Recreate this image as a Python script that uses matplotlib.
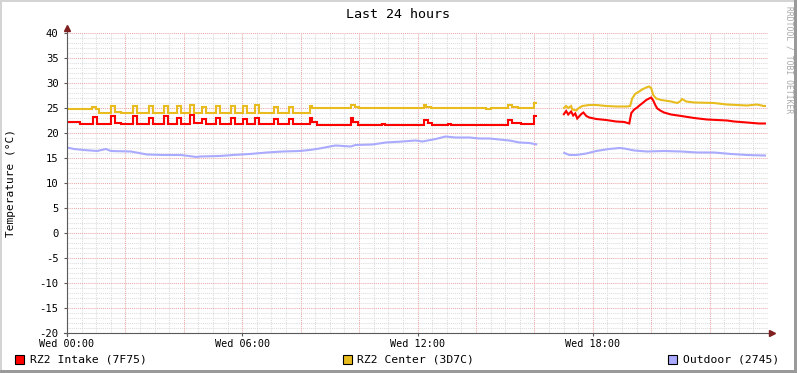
import numpy as np
import matplotlib
matplotlib.use("Agg")
import matplotlib.pyplot as plt
from matplotlib.patches import Rectangle

nan = np.nan

# ---------------- data (hours since Wed 00:00, degrees C) ----------------
intake_t = [0.00, 0.45, 0.89, 1.02, 1.50, 1.64, 1.85, 2.26, 2.40, 2.80, 2.94, 3.32, 3.46,
            3.76, 3.90, 4.21, 4.35, 4.62, 4.76, 5.09, 5.23, 5.61, 5.75, 6.02, 6.16, 6.43,
            6.57, 7.08, 7.22, 7.59, 7.73, 8.31, 8.40, 8.55, 9.71, 9.80, 9.95, 10.80, 10.90,
            12.21, 12.35, 12.50, 13.03, 13.15, 15.11, 15.22, 15.55, 16.00, 16.10, 16.10,
            16.99, 17.09, 17.16, 17.26, 17.33, 17.40, 17.47, 17.61, 17.68, 17.78, 17.88,
            18.12, 18.46, 18.80, 19.08, 19.25, 19.32, 19.42, 19.52, 19.62, 19.73, 19.83,
            19.93, 20.00, 20.07, 20.14, 20.21, 20.31, 20.44, 20.68, 21.03, 21.47, 21.91,
            22.60, 22.84, 23.28, 23.69, 23.93]
intake_v = [22.2, 21.9, 23.2, 21.9, 23.5, 22.0, 21.8, 23.4, 21.9, 23.1, 21.8, 23.4, 21.8,
            23.1, 21.8, 23.6, 22.0, 22.8, 21.8, 23.0, 21.9, 23.0, 21.8, 22.9, 21.8, 23.0,
            21.8, 22.9, 21.8, 22.9, 21.8, 23.1, 22.2, 21.7, 23.0, 22.3, 21.7, 21.9, 21.7,
            22.7, 22.1, 21.7, 21.9, 21.7, 22.7, 22.1, 21.8, 23.4, 23.4, nan,
            23.6, 24.4, 23.7, 24.3, 23.5, 23.9, 22.9, 23.8, 24.1, 23.4, 23.1,
            22.8, 22.6, 22.3, 22.2, 21.9, 24.0, 24.7, 25.1, 25.6, 26.1, 26.6,
            26.9, 27.1, 26.5, 25.6, 24.9, 24.5, 24.1, 23.7, 23.4, 23.0, 22.7,
            22.5, 22.3, 22.1, 21.9, 21.9]

center_t = [0.00, 0.75, 0.85, 1.00, 1.10, 1.50, 1.64, 1.85, 2.26, 2.40, 2.80, 2.94, 3.32,
            3.46, 3.76, 3.90, 4.21, 4.35, 4.62, 4.76, 5.09, 5.23, 5.61, 5.75, 6.02, 6.16,
            6.43, 6.57, 7.08, 7.22, 7.59, 7.73, 8.31, 8.40, 9.71, 9.85, 10.00, 10.50,
            12.21, 12.30, 12.45, 14.35, 14.50, 15.11, 15.22, 15.45, 16.00, 16.10, 16.10,
            16.99, 17.09, 17.16, 17.26, 17.30, 17.44, 17.50, 17.64, 17.88, 18.12, 18.46,
            18.80, 19.18, 19.28, 19.35, 19.45, 19.59, 19.69, 19.83, 19.93, 20.00, 20.07,
            20.17, 20.34, 20.68, 20.89, 20.99, 21.06, 21.20, 21.47, 22.15, 22.60, 23.28,
            23.62, 23.86, 23.93]
center_v = [24.8, 24.9, 25.2, 24.8, 24.0, 25.5, 24.2, 24.0, 25.4, 24.0, 25.5, 24.0, 25.5,
            24.0, 25.4, 24.0, 25.6, 24.0, 25.3, 24.0, 25.4, 24.0, 25.5, 24.0, 25.4, 24.0,
            25.6, 24.0, 25.3, 24.0, 25.3, 24.0, 25.5, 25.1, 25.6, 25.2, 25.0, 25.1,
            25.7, 25.3, 25.1, 24.9, 25.1, 25.7, 25.3, 25.1, 26.1, 26.1, nan,
            24.9, 25.4, 25.0, 25.4, 24.7, 24.5, 24.9, 25.4, 25.6, 25.6, 25.4,
            25.3, 25.3, 25.4, 26.9, 27.8, 28.3, 28.7, 29.1, 29.3, 29.0, 27.6,
            26.9, 26.6, 26.3, 26.0, 26.3, 26.8, 26.3, 26.1, 26.0, 25.7, 25.5,
            25.7, 25.4, 25.4]

outdoor_t = [0.00, 0.24, 0.58, 1.03, 1.33, 1.50, 2.19, 2.74, 3.32, 3.90, 4.44, 4.55, 5.23,
             5.68, 6.26, 6.84, 7.38, 7.97, 8.31, 8.65, 9.09, 9.20, 9.71, 9.88, 10.46, 10.91,
             11.49, 11.93, 12.17, 12.62, 12.96, 13.30, 13.78, 14.12, 14.46, 14.80, 15.15,
             15.49, 15.83, 16.10, 16.10,
             16.99, 17.20, 17.44, 17.78, 18.12, 18.56, 18.91, 19.08, 19.42, 19.86, 20.44,
             21.03, 21.57, 22.15, 22.74, 23.28, 23.86, 23.93]
outdoor_v = [17.1, 16.8, 16.6, 16.4, 16.8, 16.4, 16.3, 15.7, 15.6, 15.6, 15.2, 15.3, 15.4,
             15.6, 15.8, 16.1, 16.3, 16.4, 16.6, 16.9, 17.4, 17.5, 17.3, 17.6, 17.7, 18.1,
             18.3, 18.5, 18.3, 18.8, 19.3, 19.1, 19.1, 18.9, 18.9, 18.7, 18.5,
             18.1, 18.0, 17.7, nan,
             16.1, 15.6, 15.6, 15.9, 16.4, 16.8, 17.0, 16.9, 16.5, 16.3, 16.4,
             16.3, 16.1, 16.1, 15.8, 15.6, 15.5, 15.5]

series_names = ["RZ2 Intake (7F75)", "RZ2 Center (3D7C)", "Outdoor (2745)"]
series_colors = ["#FF0000", "#E8BC1E", "#AAAAFF"]

x_tick_pos = [0, 6, 12, 18]
x_tick_labels = ["Wed 00:00", "Wed 06:00", "Wed 12:00", "Wed 18:00"]
y_tick_pos = list(range(-20, 41, 5))

title = "Last 24 hours"
y_label = "Temperature (°C)"
watermark = "RRDTOOL / TOBI OETIKER"

# ---------------- figure ----------------
W, H = 797, 373
fig = plt.figure(figsize=(W / 100, H / 100), dpi=100)
fig.patch.set_facecolor("white")
mono = "DejaVu Sans Mono"

def fx(px):
    return px / W

def fy(py):
    return 1 - py / H

# 3D-ish border
fig.add_artist(Rectangle((0, fy(2)), 1, 2 / H, transform=fig.transFigure, color="#D4D4D4", lw=0))
fig.add_artist(Rectangle((0, 0), 2 / W, 1, transform=fig.transFigure, color="#D4D4D4", lw=0))
fig.add_artist(Rectangle((0, 0), 1, 3 / H, transform=fig.transFigure, color="#9A9A9A", lw=0))
fig.add_artist(Rectangle((1 - 3 / W, 0), 3 / W, 1, transform=fig.transFigure, color="#9A9A9A", lw=0))

L, R, T, B = 67, 768, 33, 333
ax = fig.add_axes([fx(L), fy(B), fx(R - L), (B - T) / H])
ax.set_xlim(0, 24)
ax.set_ylim(-20, 40)
ax.set_facecolor("white")
for s in ax.spines.values():
    s.set_visible(False)

# grid
minor_c = "#DCDCDC"
major_c = "#EAA8A8"
for yv in np.arange(-20, 40.01, 1):
    if abs(yv - round(yv / 5) * 5) < 1e-6:
        ax.axhline(yv, color=major_c, lw=0.75, ls=(0, (1, 1)), zorder=1)
    else:
        ax.axhline(yv, color=minor_c, lw=0.75, ls=(0, (1, 1)), zorder=0.5)
for xv in np.arange(0, 24.01, 0.5):
    if abs(xv - round(xv / 2) * 2) < 1e-6:
        ax.axvline(xv, color=major_c, lw=0.75, ls=(0, (1, 1)), zorder=1)
    else:
        ax.axvline(xv, color=minor_c, lw=0.75, ls=(0, (1, 1)), zorder=0.5)

# data lines: split each series at its data gap (NaN)
def split(t, v):
    t = np.asarray(t, float)
    v = np.asarray(v, float)
    k = int(np.where(np.isnan(v))[0][0])
    return (t[:k], v[:k]), (t[k + 1:], v[k + 1:])

kw = dict(lw=1.5, zorder=3, solid_joinstyle="miter", solid_capstyle="butt")
for t, v, c in [(intake_t, intake_v, series_colors[0]),
                (center_t, center_v, series_colors[1])]:
    (ta, va), (tb, vb) = split(t, v)
    ax.plot(ta, va, color=c, drawstyle="steps-post", **kw)
    ax.plot(tb, vb, color=c, **kw)
(ta, va), (tb, vb) = split(outdoor_t, outdoor_v)
ax.plot(ta, va, color=series_colors[2], **kw)
ax.plot(tb, vb, color=series_colors[2], **kw)

# axes lines with arrows
axis_c = "#5A5A5A"
arrow_c = "#7F1F1F"
ax.plot([-0.1, 24.12], [-20, -20], color=axis_c, lw=0.8, clip_on=False, zorder=4)
ax.plot([0, 0], [-20.6, 41.0], color=axis_c, lw=0.8, clip_on=False, zorder=4)
ax.plot([24.15], [-20], marker=">", ms=4.5, color=arrow_c, mec=arrow_c, clip_on=False, zorder=5)
ax.plot([0], [41.0], marker="^", ms=4.5, color=arrow_c, mec=arrow_c, clip_on=False, zorder=5)

# ticks
ax.set_xticks(x_tick_pos)
ax.set_xticklabels(x_tick_labels, fontfamily=mono, fontsize=7.3)
ax.set_yticks(y_tick_pos)
ax.set_yticklabels([str(v) for v in y_tick_pos], fontfamily=mono, fontsize=7.6)
ax.tick_params(axis="x", length=2.5, width=0.8, color=axis_c, pad=1.5, direction="out")
ax.tick_params(axis="y", length=2.0, width=0.8, color=axis_c, pad=4.0, direction="out")

# texts
fig.text(fx(398), fy(14), title, ha="center", va="center", fontfamily=mono, fontsize=9.6)
fig.text(fx(11), fy(183), y_label, ha="center", va="center", rotation=90,
         fontfamily=mono, fontsize=8.0)
fig.text(fx(789), fy(60), watermark, ha="center", va="center", rotation=270,
         fontfamily=mono, fontsize=5.8, color="#A8A8A8")

# legend
legend_sq_x = [15, 343, 668]
legend_txt_x = [30, 357, 683]
for name, col, sx, tx in zip(series_names, series_colors, legend_sq_x, legend_txt_x):
    fig.add_artist(Rectangle((fx(sx), fy(364)), 9 / W, 9 / H, transform=fig.transFigure,
                             facecolor=col, edgecolor="black", lw=0.8))
    fig.text(fx(tx), fy(359), name, ha="left", va="center", fontfamily=mono, fontsize=8.2)

fig.savefig("out.png", dpi=100, facecolor=fig.get_facecolor())
